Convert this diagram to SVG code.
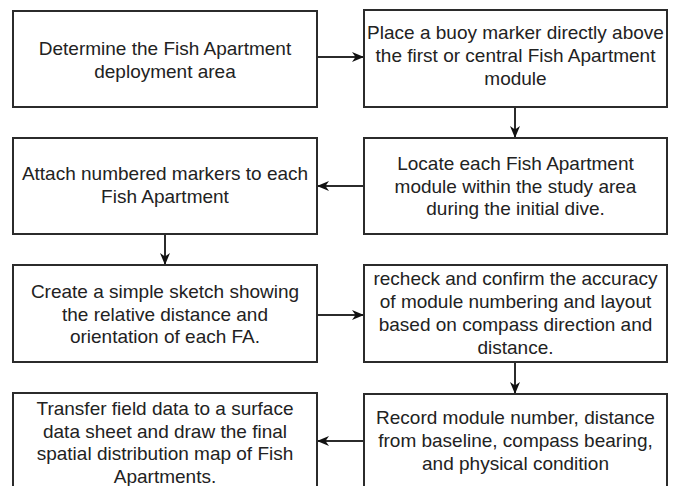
<svg xmlns="http://www.w3.org/2000/svg" width="674" height="486" viewBox="0 0 674 486">
<defs>
<style>
.box{fill:#fff;stroke:#2b2b2b;stroke-width:2}
.t{font-family:"Liberation Sans",Arial,sans-serif;font-size:19px;fill:#222;text-anchor:middle}
.c{fill:none;stroke:#2b2b2b;stroke-width:2}
</style>
<marker id="ah" markerUnits="userSpaceOnUse" markerWidth="12" markerHeight="10" refX="11" refY="5" orient="auto" viewBox="0 0 12 10">
<path d="M0,0 L12,5 L0,10 L3.5,5 Z" fill="#111"/>
</marker>
</defs>
<rect width="674" height="486" fill="#fff"/>
<g id="connectors">
<line class="c" x1="317" y1="57" x2="363" y2="57" marker-end="url(#ah)"/>
<line class="c" x1="515" y1="107" x2="515" y2="137" marker-end="url(#ah)"/>
<line class="c" x1="364" y1="186" x2="318" y2="186" marker-end="url(#ah)"/>
<line class="c" x1="165" y1="234" x2="165" y2="264" marker-end="url(#ah)"/>
<line class="c" x1="317" y1="315" x2="363" y2="315" marker-end="url(#ah)"/>
<line class="c" x1="515" y1="362" x2="515" y2="393" marker-end="url(#ah)"/>
<line class="c" x1="364" y1="441" x2="318" y2="441" marker-end="url(#ah)"/>
</g>
<g id="n1"><rect class="box" x="13" y="11" width="304" height="96"/>
<text class="t" x="165" y="55">Determine the Fish Apartment</text>
<text class="t" x="165" y="78">deployment area</text></g>
<g id="n2"><rect class="box" x="364" y="10" width="303" height="97"/>
<text class="t" x="515.5" y="39">Place a buoy marker directly above</text>
<text class="t" x="515.5" y="62">the first or central Fish Apartment</text>
<text class="t" x="515.5" y="85">module</text></g>
<g id="n3"><rect class="box" x="13" y="138" width="304" height="96"/>
<text class="t" x="165" y="180">Attach numbered markers to each</text>
<text class="t" x="165" y="203">Fish Apartment</text></g>
<g id="n4"><rect class="box" x="364" y="138" width="303" height="96"/>
<text class="t" x="515.5" y="170">Locate each Fish Apartment</text>
<text class="t" x="515.5" y="193">module within the study area</text>
<text class="t" x="515.5" y="215">during the initial dive.</text></g>
<g id="n5"><rect class="box" x="13" y="265" width="304" height="97"/>
<text class="t" x="165" y="298">Create a simple sketch showing</text>
<text class="t" x="165" y="320.5">the relative distance and</text>
<text class="t" x="165" y="343">orientation of each FA.</text></g>
<g id="n6"><rect class="box" x="364" y="265" width="303" height="97"/>
<text class="t" x="515.5" y="285">recheck and confirm the accuracy</text>
<text class="t" x="515.5" y="308">of module numbering and layout</text>
<text class="t" x="515.5" y="331">based on compass direction and</text>
<text class="t" x="515.5" y="354">distance.</text></g>
<g id="n7"><rect class="box" x="13" y="393" width="304" height="110"/>
<text class="t" x="165" y="415">Transfer field data to a surface</text>
<text class="t" x="165" y="437.5">data sheet and draw the final</text>
<text class="t" x="165" y="460">spatial distribution map of Fish</text>
<text class="t" x="165" y="482.5">Apartments.</text></g>
<g id="n8"><rect class="box" x="364" y="394" width="303" height="110"/>
<text class="t" x="515.5" y="424">Record module number, distance</text>
<text class="t" x="515.5" y="447">from baseline, compass bearing,</text>
<text class="t" x="515.5" y="470">and physical condition</text></g>
</svg>
